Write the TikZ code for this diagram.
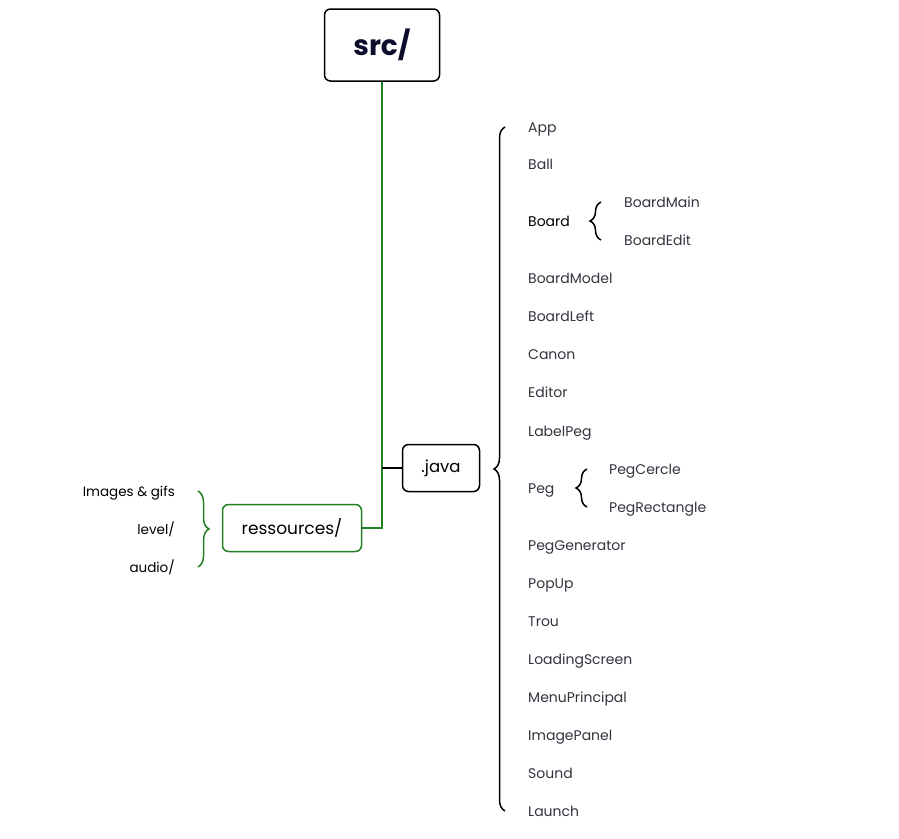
\documentclass[tikz,border=0pt]{standalone}
\usepackage{fontspec}
\setmainfont{Poppins}
\usetikzlibrary{decorations.pathreplacing}

\definecolor{treegreen}{RGB}{34,128,34}
\definecolor{leafgray}{RGB}{50,52,62}
\definecolor{rootnavy}{RGB}{12,12,44}

\tikzset{
  dirbox/.style={draw, line width=1.5pt, rounded corners=6pt, fill=white},
  leaf/.style={anchor=west, inner sep=0pt, text height=1.08em, text depth=0pt,
    text=leafgray, font=\fontsize{14}{16}\selectfont},
  resleaf/.style={leaf, anchor=east, text=black, font=\fontsize{13.5}{16}\selectfont},
  treebrace/.style={decorate, decoration={brace, amplitude=11pt}, line width=1.5pt}
}

\begin{document}
\begin{tikzpicture}[x=1pt,y=-1pt]
            \useasboundingbox (0,0) rectangle (899,838);

            % directory boxes
            \node[dirbox, minimum width=115, minimum height=72, text=rootnavy,
              font=\fontsize{28}{32}\selectfont\bfseries] (src) at (382,45) {src/};
            \node[dirbox, minimum width=77, minimum height=47,
              font=\fontsize{16.5}{20}\selectfont] (java) at (441,468) {.java};
            \node[dirbox, draw=treegreen, minimum width=139, minimum height=47,
              font=\fontsize{17}{20}\selectfont] (res) at (292,528) {ressources/};

            \draw[treegreen, line width=1.5pt] (src.south) |- (res.east);
            \draw[line width=1.5pt] (java.west) -- (java.west -| src.south);

            % java classes
            \node[leaf] (App) at (528,127) {App};
            \node[leaf] (Ball) at (528,164) {Ball};
            \node[leaf, text=black] (Board) at (528,221) {Board};
            \node[leaf] (BoardModel) at (528,278) {BoardModel};
            \node[leaf] (BoardLeft) at (528,316) {BoardLeft};
            \node[leaf] (Canon) at (528,354) {Canon};
            \node[leaf] (Editor) at (528,392) {Editor};
            \node[leaf] (LabelPeg) at (528,431) {LabelPeg};
            \node[leaf] (Peg) at (528,488) {Peg};
            \node[leaf] (PegGenerator) at (528,545) {PegGenerator};
            \node[leaf] (PopUp) at (528,583) {PopUp};
            \node[leaf] (Trou) at (528,621) {Trou};
            \node[leaf] (LoadingScreen) at (528,659) {LoadingScreen};
            \node[leaf] (MenuPrincipal) at (528,697) {MenuPrincipal};
            \node[leaf] (ImagePanel) at (528,735) {ImagePanel};
            \node[leaf] (Sound) at (528,773) {Sound};
            \node[leaf] (Launch) at (528,811) {Launch};

            \node[leaf] (BoardMain) at (624,202) {BoardMain};
            \node[leaf] (BoardEdit) at (624,240) {BoardEdit};
            \node[leaf] (PegCercle) at (609,469) {PegCercle};
            \node[leaf] (PegRectangle) at (609,507) {PegRectangle};

            % ressources content
            \node[resleaf] (images) at (175,491) {Images \& gifs};
            \node[resleaf] (level) at (175,529) {level/};
            \node[resleaf] (audio) at (175,567) {audio/};

            % braces
            \coordinate (javaTop) at ([xshift=-23]App.west);
            \coordinate (javaBot) at ([xshift=-23]Launch.west);
            \draw[treebrace] (javaBot) -- (javaTop);
            \coordinate (boardTop) at ([xshift=-23]BoardMain.west);
            \coordinate (boardBot) at ([xshift=-23]BoardEdit.west);
            \draw[treebrace] (boardBot) -- (boardTop);
            \coordinate (pegTop) at ([xshift=-22]PegCercle.west);
            \coordinate (pegBot) at ([xshift=-22]PegRectangle.west);
            \draw[treebrace] (pegBot) -- (pegTop);
            \coordinate (resTop) at ([xshift=23]images.east);
            \coordinate (resBot) at ([xshift=23]audio.east);
            \draw[treebrace, treegreen] (resTop) -- (resBot);
          \end{tikzpicture}
\end{document}
